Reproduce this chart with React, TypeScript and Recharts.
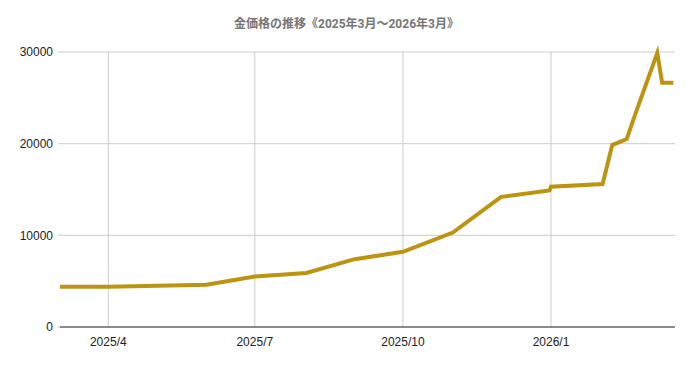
import React from 'react';
import { LineChart, Line, XAxis, YAxis, CartesianGrid } from 'recharts';

const dates = [
  '2025-03-02', '2025-04-01', '2025-06-01', '2025-07-01', '2025-08-02',
  '2025-09-01', '2025-10-01', '2025-11-01', '2025-12-01', '2025-12-31',
  '2026-01-01', '2026-02-02', '2026-02-04', '2026-02-08', '2026-02-17',
  '2026-02-23', '2026-03-08', '2026-03-11', '2026-03-18',
];
const values = [
  4400, 4400, 4600, 5500, 5900,
  7400, 8200, 10300, 14200, 14900,
  15300, 15600, 17000, 19850, 20500,
  23550, 29900, 26650, 26650,
];
const xTickDates = ['2025-04-01', '2025-07-01', '2025-10-01', '2026-01-01'];
const xTickLabels = ['2025/4', '2025/7', '2025/10', '2026/1'];
const yTicks = [0, 10000, 20000, 30000];
const domainStart = '2025-03-02';
const domainEnd = '2026-03-19';
const title = '金価格の推移《2025年3月～2026年3月》';

const toT = (s: string) => {
  const [y, m, d] = s.split('-').map(Number);
  return Date.UTC(y, m - 1, d);
};

const data = dates.map((d, i) => ({ t: toT(d), v: values[i] }));
const xTicks = xTickDates.map(toT);
const labelFor = (t: number) => {
  const i = xTicks.indexOf(t);
  return i >= 0 ? xTickLabels[i] : '';
};

const FONT = "Roboto, 'Noto Sans CJK JP', sans-serif";
const AXIS_FONT = "Arial, 'Liberation Sans', sans-serif";

export default function App() {
  return (
    <div style={{ position: 'absolute', left: 0, top: 0, width: 693, height: 366, background: '#fff', fontFamily: FONT }}>
      <div
        style={{
          position: 'absolute',
          left: 0,
          top: 16,
          width: 693,
          textAlign: 'center',
          fontSize: 12,
          fontWeight: 'bold',
          color: '#757575',
          lineHeight: '16px',
          fontFamily: FONT,
        }}
      >
        {title}
      </div>
      <LineChart
        width={693}
        height={366}
        data={data}
        margin={{ top: 52, right: 18, bottom: 9, left: 0 }}
      >
        <CartesianGrid stroke="#cccccc" horizontalValues={yTicks} verticalValues={xTicks} />
        <XAxis
          dataKey="t"
          type="number"
          domain={[toT(domainStart), toT(domainEnd)]}
          ticks={xTicks}
          tickFormatter={labelFor}
          tickLine={false}
          tickSize={0}
          tickMargin={10}
          height={30}
          axisLine={{ stroke: '#333333', strokeWidth: 1 }}
          tick={{ fill: '#222222', fontSize: 12, fontFamily: AXIS_FONT }}
          allowDataOverflow
        />
        <YAxis
          type="number"
          domain={[0, 30000]}
          ticks={yTicks}
          width={60}
          axisLine={false}
          tickLine={{ stroke: '#cccccc' }}
          tickSize={2}
          tickMargin={5}
          tick={{ fill: '#222222', fontSize: 12, fontFamily: AXIS_FONT }}
        />
        <Line
          type="linear"
          dataKey="v"
          stroke="#bb9412"
          strokeWidth={4}
          dot={false}
          activeDot={false}
          isAnimationActive={false}
        />
      </LineChart>
    </div>
  );
}
